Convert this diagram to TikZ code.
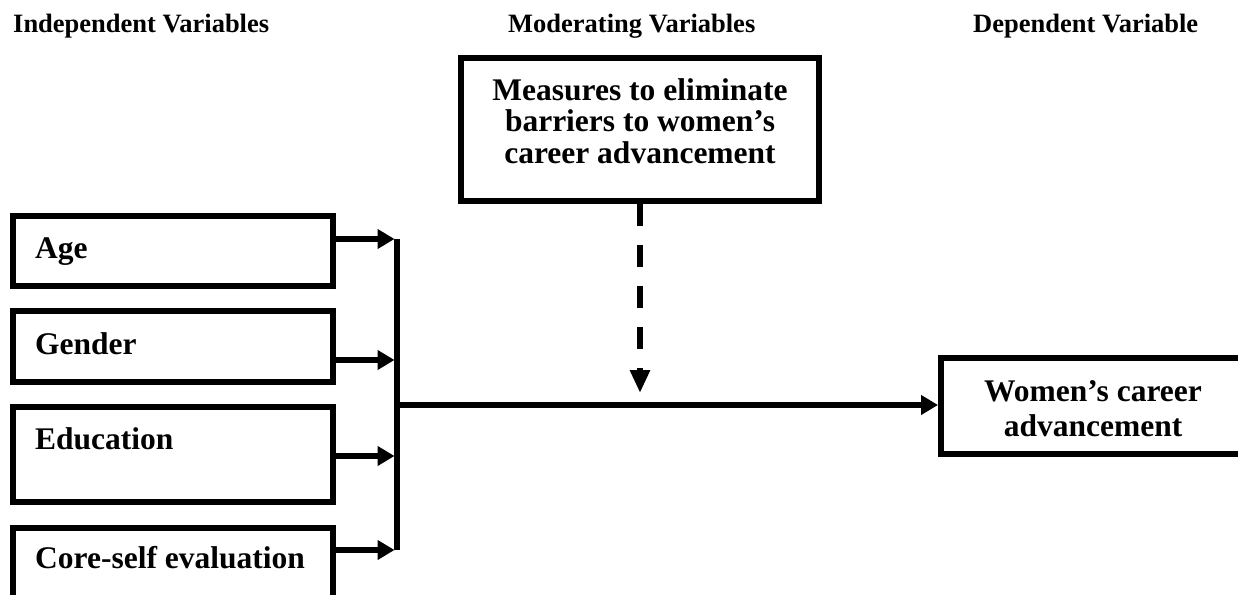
\documentclass[tikz,border=0pt]{standalone}
\usepackage{fontspec}
\setmainfont{Liberation Serif}
\usetikzlibrary{arrows.meta}

\begin{document}
\begin{tikzpicture}[x=1pt, y=-1pt,
  box/.style={draw, line width=6pt, inner sep=0pt},
  txt/.style={anchor=base west, inner sep=0pt, font=\bfseries\fontsize{31.5}{35}\selectfont},
  mid/.style={align=center, inner sep=0pt, font=\bfseries\fontsize{31.5}{#1}\selectfont},
  head/.style={anchor=base west, inner sep=0pt, font=\bfseries\fontsize{26.5}{30}\selectfont},
  arr/.style={line width=5.5pt, shorten >=2.5pt, -{Triangle[length=17pt,width=19pt]}}]
\clip (0,0) rectangle (1238,594);

% headings
\node[head] (hInd) at (13,33) {Independent Variables};
\node[head] (hMod) at (508,33) {Moderating Variables};
\node[head] (hDep) at (973,33) {Dependent Variable};

% independent variables
\node[box, minimum width=320pt, minimum height=70pt] (ageBox) at (173,251) {};
\node[box, minimum width=320pt, minimum height=71pt] (genderBox) at (173,346.5) {};
\node[box, minimum width=320pt, minimum height=95pt] (eduBox) at (173,454.5) {};
\node[box, minimum width=320pt, minimum height=92pt] (coreBox) at (173,574) {};
\node[txt] (ageTxt) at (35,258) {Age};
\node[txt] (genderTxt) at (35,354) {Gender};
\node[txt] (eduTxt) at (35,449) {Education};
\node[txt] (coreTxt) at (35,568) {Core-self evaluation};

% moderating and dependent variables
\node[box, minimum width=358pt, minimum height=143pt] (topBox) at (640,129.5) {};
\node[mid=31.5] (topTxt) at (640,121) {Measures to eliminate\\barriers to women’s\\career advancement};
\node[box, minimum width=304pt, minimum height=96pt] (rightBox) at (1093,406) {};
\node[mid=35] (rightTxt) at (1093,409) {Women’s career\\advancement};

% bus
\coordinate (busTop) at (397,239);
\coordinate (busGen) at (397,360);
\coordinate (busMid) at (397,405);
\coordinate (busEdu) at (397,456);
\coordinate (busBot) at (397,550);
\coordinate (dashEnd) at (640,393);

\draw[line width=5.5pt] (busTop) -- (busBot);
\draw[arr] (ageBox.east |- busTop) -- (busTop);
\draw[arr] (genderBox.east |- busGen) -- (busGen);
\draw[arr] (eduBox.east |- busEdu) -- (busEdu);
\draw[arr] (coreBox.east |- busBot) -- (busBot);
\draw[line width=5.5pt, -{Triangle[length=17pt,width=19pt]}] (busMid) -- (rightBox.west |- busMid);

\draw[line width=6.5pt, dash pattern=on 22pt off 19pt,
  -{Triangle[length=23pt,width=19pt]}] (topBox.south) -- (dashEnd);
\end{tikzpicture}
\end{document}
